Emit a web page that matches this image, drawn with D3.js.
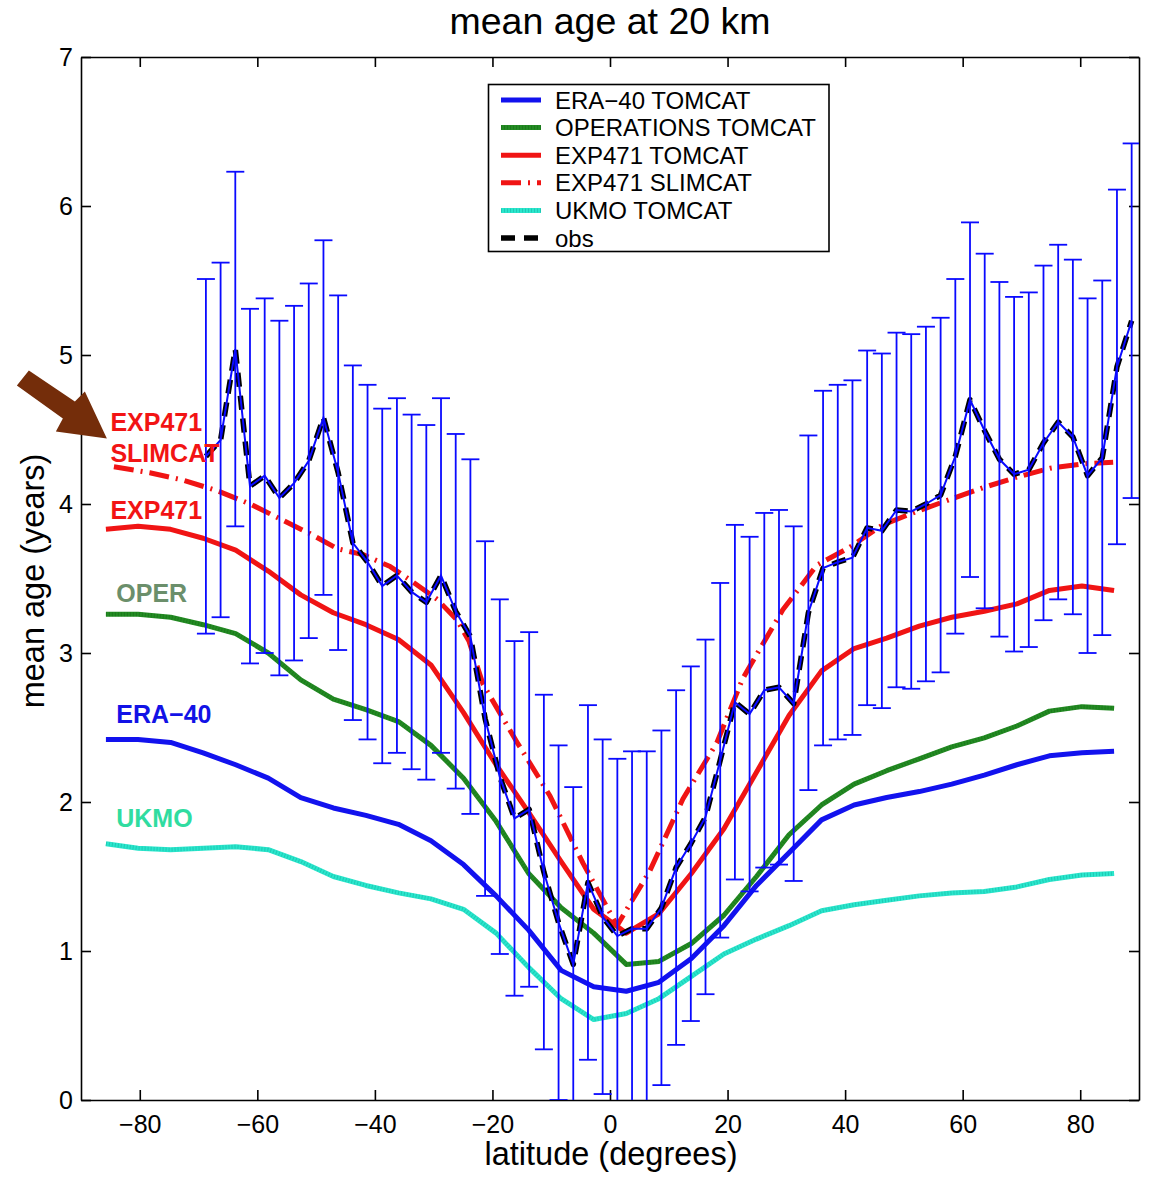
<!DOCTYPE html>
<html>
<head>
<meta charset="utf-8">
<script src="https://cdn.jsdelivr.net/npm/d3@7"></script>
<style>
  body { margin: 0; background: #fff; }
  svg { display: block; }
  text { font-family: "Liberation Sans", Arial, Helvetica, sans-serif; }
</style>
</head>
<body>
<svg id="chart" width="1151" height="1179"></svg>
<script>
// ---------------- data ----------------
const modelLat = [-85.76,-80.29,-74.75,-69.22,-63.68,-58.14,-52.61,-47.07,-41.53,-35.99,-30.46,-24.92,-19.38,-13.84,-8.31,-2.77,
                  2.77,8.31,13.84,19.38,24.92,30.46,35.99,41.53,47.07,52.61,58.14,63.68,69.22,74.75,80.29,85.76];
const era40Tomcat = [2.42,2.42,2.40,2.33,2.25,2.16,2.03,1.96,1.91,1.85,1.74,1.58,1.37,1.14,0.87,0.76,
                     0.73,0.79,0.95,1.17,1.44,1.66,1.88,1.98,2.03,2.07,2.12,2.18,2.25,2.31,2.33,2.34];
const operTomcat  = [3.26,3.26,3.24,3.19,3.13,3.00,2.82,2.69,2.62,2.54,2.38,2.16,1.87,1.52,1.29,1.12,
                     0.91,0.93,1.05,1.24,1.50,1.78,1.98,2.12,2.21,2.29,2.37,2.43,2.51,2.61,2.64,2.63];
const exp471Tomcat = [3.83,3.85,3.83,3.77,3.69,3.55,3.39,3.27,3.19,3.09,2.92,2.60,2.25,1.93,1.60,1.28,
                      1.12,1.25,1.52,1.82,2.20,2.58,2.88,3.03,3.10,3.18,3.24,3.28,3.33,3.42,3.45,3.42];
const ukmoTomcat  = [1.72,1.69,1.68,1.69,1.70,1.68,1.60,1.50,1.44,1.39,1.35,1.28,1.12,0.89,0.68,0.54,
                     0.58,0.68,0.83,0.98,1.08,1.17,1.27,1.31,1.34,1.37,1.39,1.40,1.43,1.48,1.51,1.52];

const slimcatLat = [-84.4,-78.3,-72.6,-66.9,-61.2,-55.6,-51.0,-46.4,-42.0,-37.4,-34.0,-29.4,-26.0,-24.0,-21.6,-15.8,-10.2,-4.6,
                    1.2,6.8,12.4,18.2,22.6,29.4,35.2,40.8,46.4,52.2,57.8,63.5,69.2,74.9,80.5,85.6];
const exp471Slimcat = [4.25,4.21,4.16,4.09,4.00,3.89,3.80,3.70,3.66,3.58,3.49,3.36,3.22,3.08,2.79,2.40,2.04,1.59,
                       1.17,1.54,2.02,2.40,2.83,3.29,3.59,3.71,3.86,3.95,4.03,4.11,4.18,4.24,4.27,4.28];

const obsLat = [-68.75,-66.25,-63.75,-61.25,-58.75,-56.25,-53.75,-51.25,-48.75,-46.25,-43.75,-41.25,-38.75,-36.25,-33.75,-31.25,
                -28.75,-26.25,-23.75,-21.25,-18.75,-16.25,-13.75,-11.25,-8.75,-6.25,-3.75,-1.25,1.25,3.75,6.25,8.75,
                11.25,13.75,16.25,18.75,21.25,23.75,26.25,28.75,31.25,33.75,36.25,38.75,41.25,43.75,46.25,48.75,
                51.25,53.75,56.25,58.75,61.25,63.75,66.25,68.75,71.25,73.75,76.25,78.75,81.25,83.75,86.25,88.75];
const obsMean = [4.32,4.43,5.04,4.12,4.19,4.04,4.14,4.29,4.58,4.21,3.74,3.61,3.45,3.52,3.41,3.34,
                 3.52,3.28,3.11,2.56,2.17,1.89,1.95,1.53,1.19,0.91,1.46,1.23,1.10,1.15,1.15,1.29,
                 1.56,1.72,1.90,2.28,2.67,2.59,2.75,2.77,2.66,3.27,3.57,3.61,3.64,3.84,3.82,3.96,
                 3.95,4.00,4.06,4.32,4.70,4.49,4.30,4.20,4.23,4.41,4.55,4.45,4.19,4.31,4.92,5.23];
const obsError = 1.19; // half-length of every error bar (years), same at all latitudes

const xTicks = [-80,-60,-40,-20,0,20,40,60,80];
const yTicks = [0,1,2,3,4,5,6,7];

const legendLabels = ["ERA\u221240 TOMCAT","OPERATIONS TOMCAT","EXP471 TOMCAT","EXP471 SLIMCAT","UKMO TOMCAT","obs"];
const sideLabels = [
  {text:"EXP471",  lat:-85.0, val:4.49, color:"#f21414"},
  {text:"SLIMCAT", lat:-85.0, val:4.28, color:"#f21414"},
  {text:"EXP471",  lat:-85.0, val:3.90, color:"#f21414"},
  {text:"OPER",    lat:-84.0, val:3.34, color:"#6b8f6b"},
  {text:"ERA\u221240", lat:-84.0, val:2.53, color:"#1212e6"},
  {text:"UKMO",    lat:-84.0, val:1.83, color:"#30dca0"}
];

// ---------------- layout ----------------
const svg = d3.select("#chart");
const x = d3.scaleLinear().domain([-90, 90]).range([81, 1139]);
const y = d3.scaleLinear().domain([0, 7]).range([1100, 57]);

svg.append("defs").append("clipPath").attr("id","plotclip")
  .append("rect").attr("x",81).attr("y",57).attr("width",1058).attr("height",1043);

// title
svg.append("text").attr("x", 610).attr("y", 34).attr("text-anchor","middle")
  .attr("font-size", 37.5).attr("fill","#000").text("mean age at 20 km");

// axes
const fmt = d3.format("d");
const axB = svg.append("g").attr("transform","translate(0,1100)")
  .call(d3.axisBottom(x).tickValues(xTicks).tickFormat(fmt).tickSize(-10).tickSizeOuter(0).tickPadding(15));
const axT = svg.append("g").attr("transform","translate(0,57)")
  .call(d3.axisTop(x).tickValues(xTicks).tickFormat("").tickSize(-10).tickSizeOuter(0));
const axL = svg.append("g").attr("transform","translate(81,0)")
  .call(d3.axisLeft(y).tickValues(yTicks).tickFormat(fmt).tickSize(-10).tickSizeOuter(0).tickPadding(8));
const axR = svg.append("g").attr("transform","translate(1139,0)")
  .call(d3.axisRight(y).tickValues(yTicks).tickFormat("").tickSize(-10).tickSizeOuter(0));
[axB, axT, axL, axR].forEach(a => {
  a.selectAll("path.domain").attr("stroke","#000").attr("stroke-width",1.6);
  a.selectAll(".tick line").attr("stroke","#000").attr("stroke-width",1.6);
  a.selectAll("text").attr("font-size",25).attr("fill","#000").attr("font-family",'"Liberation Sans", Arial, sans-serif');
});

// axis labels
svg.append("text").attr("x", 611).attr("y", 1165).attr("text-anchor","middle")
  .attr("font-size", 32.5).attr("fill","#000").text("latitude (degrees)");
svg.append("text").attr("transform","translate(44,581) rotate(-90)").attr("text-anchor","middle")
  .attr("font-size", 32.5).attr("fill","#000").text("mean age (years)");

// ---------------- series ----------------
const plot = svg.append("g").attr("clip-path","url(#plotclip)");
const line = d3.line().x(d => x(d[0])).y(d => y(d[1]));
const zip = (a, b) => a.map((v, i) => [v, b[i]]);

const series = [
  {name: legendLabels[0], lat: modelLat,   val: era40Tomcat,   color: "#1212ee", width: 5, dash: null},
  {name: legendLabels[1], lat: modelLat,   val: operTomcat,    color: "#238b23", width: 5, dash: null, texture: "#156515"},
  {name: legendLabels[2], lat: modelLat,   val: exp471Tomcat,  color: "#f01414", width: 5, dash: null},
  {name: legendLabels[3], lat: slimcatLat, val: exp471Slimcat, color: "#f01414", width: 5, dash: "20,7,2,7"},
  {name: legendLabels[4], lat: modelLat,   val: ukmoTomcat,    color: "#2ae6cc", width: 5, dash: null, texture: "#10a898"},
  {name: legendLabels[5], lat: obsLat,     val: obsMean,       color: "#000000", width: 5.5, dash: "14,9"}
];

series.forEach(s => {
  plot.append("path").datum(zip(s.lat, s.val))
    .attr("d", line).attr("fill","none").attr("stroke", s.color)
    .attr("stroke-width", s.width).attr("stroke-linejoin","round")
    .attr("stroke-dasharray", s.dash);
  if (s.texture) {
    plot.append("path").datum(zip(s.lat, s.val))
      .attr("d", line).attr("fill","none").attr("stroke", s.texture)
      .attr("stroke-width", s.width - 1).attr("stroke-dasharray","1,2").attr("opacity",0.45);
  }
});

// error bars + thin connecting line (drawn on top)
const obsPts = zip(obsLat, obsMean);
const eb = plot.append("g").attr("stroke","#0a0aff").attr("stroke-width",1.8).attr("fill","none");
eb.selectAll("line.v").data(obsPts).join("line").attr("class","v")
  .attr("x1", d => x(d[0])).attr("x2", d => x(d[0]))
  .attr("y1", d => y(d[1] - obsError)).attr("y2", d => y(d[1] + obsError));
eb.selectAll("line.top").data(obsPts).join("line").attr("class","top")
  .attr("x1", d => x(d[0]) - 9).attr("x2", d => x(d[0]) + 9)
  .attr("y1", d => y(d[1] + obsError)).attr("y2", d => y(d[1] + obsError));
eb.selectAll("line.bot").data(obsPts).join("line").attr("class","bot")
  .attr("x1", d => x(d[0]) - 9).attr("x2", d => x(d[0]) + 9)
  .attr("y1", d => y(d[1] - obsError)).attr("y2", d => y(d[1] - obsError));
eb.append("path").datum(obsPts).attr("d", line).attr("stroke-width", 2);

// ---------------- legend ----------------
const lg = svg.append("g");
lg.append("rect").attr("x",488.5).attr("y",84.5).attr("width",340.5).attr("height",167)
  .attr("fill","#fff").attr("stroke","#000").attr("stroke-width",1.6);
series.forEach((s, i) => {
  const yy = 100 + i * 27.6;
  lg.append("line").attr("x1",501).attr("x2",541).attr("y1",yy).attr("y2",yy)
    .attr("stroke", s.color).attr("stroke-width", s.width).attr("stroke-dasharray", s.dash);
  if (s.texture) {
    lg.append("line").attr("x1",501).attr("x2",541).attr("y1",yy).attr("y2",yy)
      .attr("stroke", s.texture).attr("stroke-width", s.width - 1).attr("stroke-dasharray","1,2").attr("opacity",0.45);
  }
  lg.append("text").attr("x",555).attr("y",yy).attr("dy","0.36em")
    .attr("font-size",24).attr("fill","#000").text(s.name);
});

// ---------------- annotations ----------------
sideLabels.forEach(l => {
  svg.append("text").attr("x", x(l.lat)).attr("y", y(l.val))
    .attr("font-size", 25).attr("font-weight","bold").attr("fill", l.color).text(l.text);
});

// arrow pointing at the EXP471 SLIMCAT label
const arrowTip = [x(-85.6), y(4.44)];
const arrowShape = [[-78,-68],[-32,-37],[-22,-47],[0,0],[-51,-7],[-44,-20],[-90,-53]];
svg.append("polygon")
  .attr("points", arrowShape.map(p => [arrowTip[0] + p[0], arrowTip[1] + p[1]].join(",")).join(" "))
  .attr("fill","#742d0a");
</script>
</body>
</html>
